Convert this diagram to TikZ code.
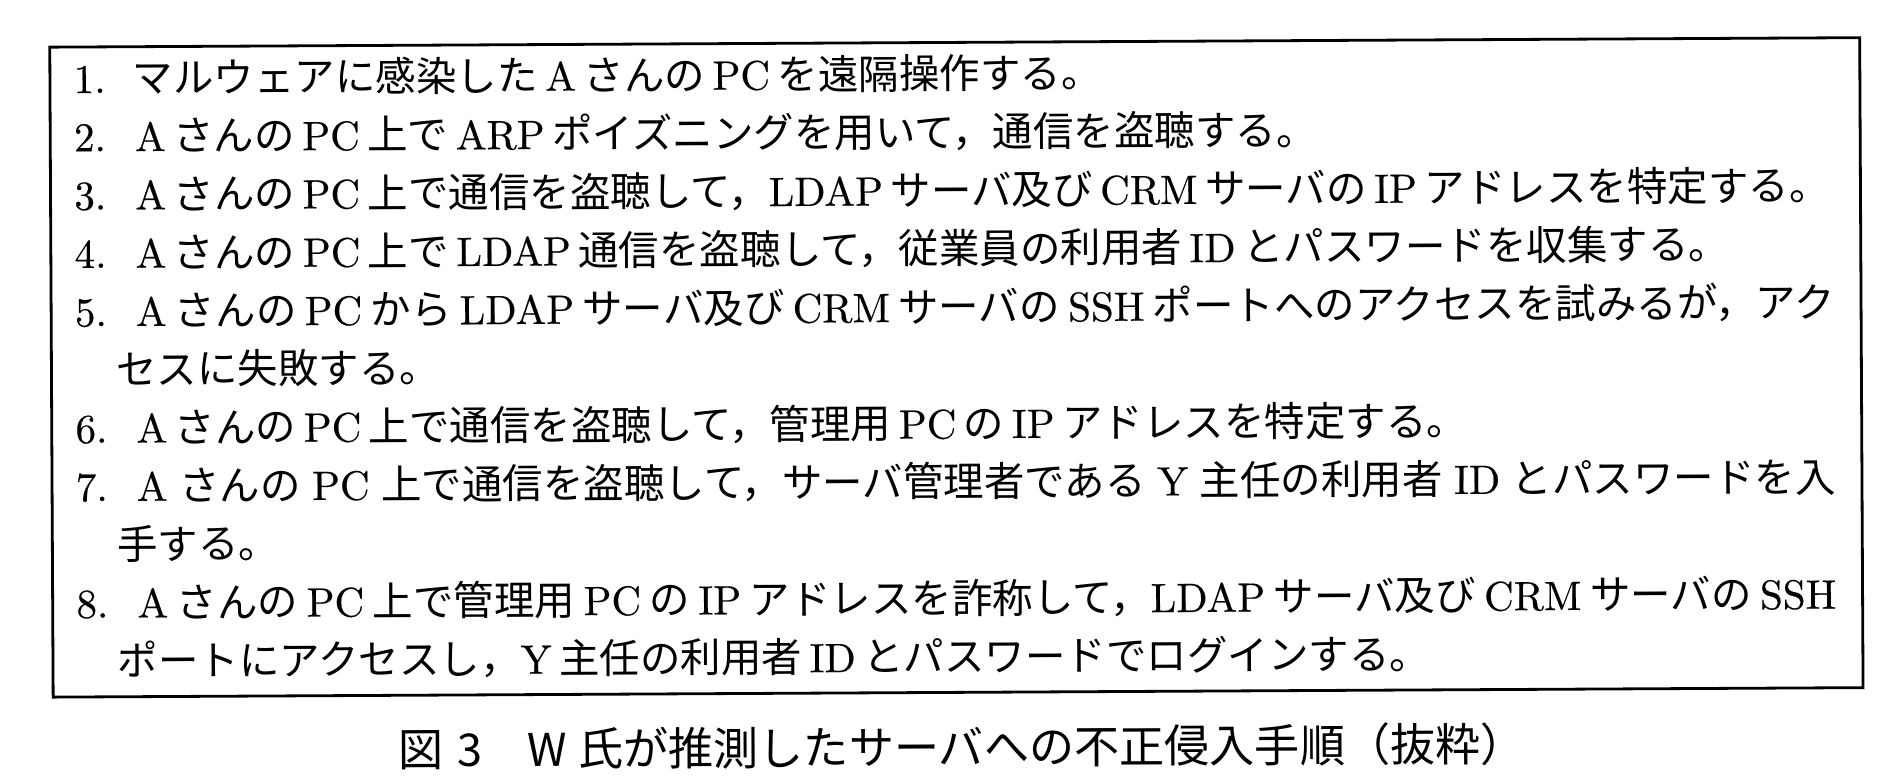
\documentclass[tikz,border=0pt]{standalone}
\usepackage{fontspec}
\setmainfont{lmroman10-regular.otf}[FakeBold=0.4]
\newfontfamily\jp{Noto Sans CJK JP}[Scale=0.988]
\newcommand\J[1]{{\jp #1}}
\newcommand\gap{\hspace{7.5pt plus 14pt minus 4pt}}
\newlength\jw
\setlength\jw{1699pt}
\begin{document}
\begin{tikzpicture}[x=1pt,y=-1pt,
  numtxt/.style={anchor=base west,inner sep=0pt,font=\fontsize{41}{49}\selectfont},
  linetxt/.style={anchor=base west,inner sep=0pt,font=\fontsize{41}{49}\selectfont},
  captxt/.style={anchor=base,inner sep=0pt,font=\jp\fontsize{45.7}{54}\selectfont},
  framebox/.style={draw,line width=2.8pt,anchor=north west,inner sep=0pt}]
\useasboundingbox (0,0) rectangle (1892,784);
\begin{scope}[rotate around={0.3:(955,366)},transform shape]
\node[framebox,minimum width=1810pt,minimum height=650pt] (frame) at (50,41) {};
\def\dy{58.3}
\def\by{88.5}
\node[numtxt] (n1) at (75,\by) {1.};
\node[linetxt] (t1) at (134,\by) {\J{マルウェアに感染した}\gap A\gap\J{さんの}\gap PC\gap\J{を遠隔操作する。}};
\node[numtxt] (n2) at (75,\by+\dy) {2.};
\node[linetxt] (t2) at (136,\by+\dy) {A\gap\J{さんの}\gap PC\gap\J{上で}\gap ARP\gap\J{ポイズニングを用いて，通信を盗聴する。}};
\node[numtxt] (n3) at (75,\by+2*\dy) {3.};
\node[linetxt] (t3) at (136,\by+2*\dy) {A\gap\J{さんの}\gap PC\gap\J{上で通信を盗聴して，}LDAP\gap\J{サーバ及び}\gap CRM\gap\J{サーバの}\gap IP\gap\J{アドレスを特定する。}};
\node[numtxt] (n4) at (75,\by+3*\dy) {4.};
\node[linetxt] (t4) at (136,\by+3*\dy) {A\gap\J{さんの}\gap PC\gap\J{上で}\gap LDAP\gap\J{通信を盗聴して，従業員の利用者}\gap ID\gap\J{とパスワードを収集する。}};
\node[numtxt] (n5) at (75,\by+4*\dy) {5.};
\node[linetxt] (t5) at (136,\by+4*\dy) {\makebox[\jw][s]{A\gap\J{さんの}\gap PC\gap\J{から}\gap LDAP\gap\J{サーバ及び}\gap CRM\gap\J{サーバの}\gap SSH\gap\J{ポートへのアクセスを試みるが，アク}}};
\node[linetxt] (t5b) at (116,\by+5*\dy) {\J{セスに失敗する。}};
\node[numtxt] (n6) at (75,\by+6*\dy) {6.};
\node[linetxt] (t6) at (136,\by+6*\dy) {A\gap\J{さんの}\gap PC\gap\J{上で通信を盗聴して，管理用}\gap PC\gap\J{の}\gap IP\gap\J{アドレスを特定する。}};
\node[numtxt] (n7) at (75,\by+7*\dy) {7.};
\node[linetxt] (t7) at (136,\by+7*\dy) {\makebox[\jw][s]{A\gap\J{さんの}\gap PC\gap\J{上で通信を盗聴して，サーバ管理者である}\gap Y\gap\J{主任の利用者}\gap ID\gap\J{とパスワードを入}}};
\node[linetxt] (t7b) at (116,\by+8*\dy) {\J{手する。}};
\node[numtxt] (n8) at (75,\by+9*\dy) {8.};
\node[linetxt] (t8) at (136,\by+9*\dy) {\makebox[\jw][s]{A\gap\J{さんの}\gap PC\gap\J{上で管理用}\gap PC\gap\J{の}\gap IP\gap\J{アドレスを詐称して，}LDAP\gap\J{サーバ及び}\gap CRM\gap\J{サーバの}\gap SSH}};
\node[linetxt] (t8b) at (116,\by+10*\dy) {\J{ポートにアクセスし，}Y\gap\J{主任の利用者}\gap ID\gap\J{とパスワードでログインする。}};
\node[captxt] (cap) at (960,764) {図\hspace{0.3em}3\quad W\hspace{0.25em}氏が推測したサーバへの不正侵入手順（抜粋）};
\end{scope}
\end{tikzpicture}
\end{document}
